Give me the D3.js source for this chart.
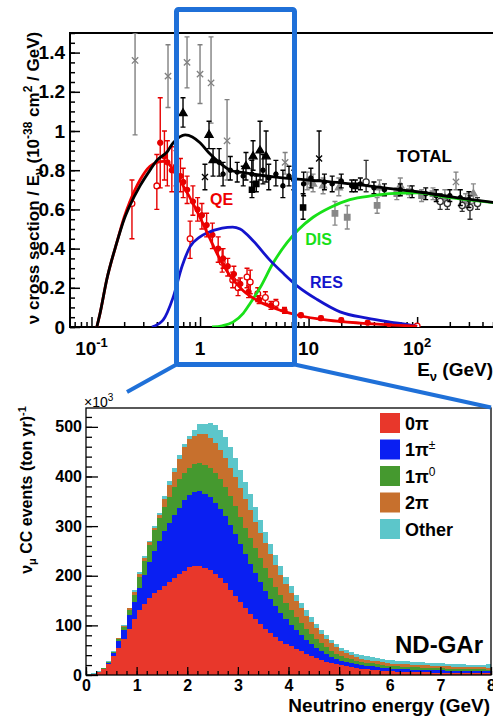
<!DOCTYPE html>
<html>
<head>
<meta charset="utf-8">
<script src="https://cdn.jsdelivr.net/npm/d3@7"></script>
<style>
  body { margin: 0; background: #fff; }
  svg text { font-family: "Liberation Sans", Arial, Helvetica, sans-serif; font-weight: bold; }
</style>
</head>
<body>
<svg width="493" height="717"></svg>
<script>
// ---------- top panel: nu cross section / E (10^-38 cm^2/GeV) vs E (GeV)
var totalEnergy = [0.112, 0.12, 0.138, 0.171, 0.2, 0.226, 0.28, 0.346, 0.4, 0.5, 0.565, 0.65, 0.73, 0.85, 1.0, 1.2, 1.5, 1.9, 2.7, 5, 10, 20, 50, 100, 200, 600];
var totalXsec   = [0, 0.07, 0.24, 0.43, 0.55, 0.62, 0.72, 0.80, 0.85, 0.895, 0.94, 0.97, 0.98, 0.97, 0.94, 0.89, 0.84, 0.80, 0.785, 0.765, 0.75, 0.735, 0.71, 0.69, 0.665, 0.63];
var qeEnergy = [0.112, 0.12, 0.138, 0.171, 0.2, 0.226, 0.28, 0.346, 0.4, 0.46, 0.52, 0.58, 0.7, 0.9, 1.1, 1.45, 1.9, 2.5, 3.5, 5.5, 8, 15, 30, 60, 100];
var qeXsec   = [0, 0.07, 0.24, 0.43, 0.56, 0.64, 0.75, 0.82, 0.84, 0.845, 0.83, 0.79, 0.72, 0.61, 0.51, 0.37, 0.26, 0.185, 0.13, 0.085, 0.06, 0.035, 0.02, 0.01, 0.004];
var resEnergy = [0.36, 0.456, 0.564, 0.683, 0.81, 1.0, 1.16, 1.6, 2.0, 2.34, 3.08, 4.42, 5.82, 7.83, 12, 19.5, 34.5, 56.5, 86.5, 100];
var resXsec   = [0, 0.035, 0.15, 0.31, 0.41, 0.46, 0.48, 0.505, 0.51, 0.50, 0.44, 0.34, 0.275, 0.21, 0.14, 0.077, 0.045, 0.025, 0.01, 0.003];
var disEnergy = [1.29, 1.6, 2.01, 2.5, 2.89, 3.57, 4.7, 6.33, 8.0, 11, 15.8, 24, 39, 56.5, 100, 200, 600];
var disXsec   = [0, 0.006, 0.025, 0.07, 0.12, 0.20, 0.325, 0.43, 0.495, 0.56, 0.61, 0.65, 0.67, 0.68, 0.685, 0.66, 0.63];

// measurements: [E, value, bar low, bar high]
var qeFilled = [[0.43,0.94,0.71,1.17],[0.47,0.87,0.75,1.0],[0.50,0.84,0.72,0.95],[0.55,0.80,0.69,0.92],[0.60,0.82,0.72,0.90],
  [0.66,0.77,0.69,0.86],[0.70,0.74,0.66,0.81],[0.76,0.70,0.63,0.77],[0.86,0.64,0.57,0.72],[0.95,0.60,0.54,0.66],
  [1.04,0.57,0.50,0.63],[1.15,0.52,0.46,0.58],[1.3,0.47,0.40,0.53],[1.47,0.40,0.33,0.46],[1.63,0.35,0.30,0.40],
  [1.8,0.31,0.26,0.35],[2.05,0.27,0.23,0.31],[2.35,0.22,0.19,0.25],[2.8,0.18,0.15,0.21],[3.5,0.14,0.12,0.16],
  [4.5,0.11,0.09,0.13],[6.0,0.085,0.07,0.10],[8.5,0.06,0.05,0.07],[13,0.045,0.035,0.055],[20,0.035,0.025,0.045],
  [35,0.022,0.015,0.03],[55,0.015,0.01,0.02]];
var qeOpen = [[0.236,0.63,0.45,0.75],[0.40,0.72,0.60,0.88],[0.81,0.45,0.35,0.54],[1.6,0.33,0.28,0.40],[2.0,0.24,0.20,0.28],
  [2.24,0.20,0.16,0.24],[2.71,0.255,0.20,0.30],[2.9,0.23,0.17,0.29],[3.4,0.17,0.13,0.20],[4.0,0.15,0.12,0.18],
  [5.0,0.12,0.10,0.14],[100,0.005,0,0.01]];
var blackTriangles = [[0.697,1.09,1.02,1.17],[1.21,0.98,0.91,1.05],[1.318,0.85,0.77,0.91],[2.65,0.82,0.75,0.89],
  [3.08,0.87,0.80,0.95],[3.57,0.90,0.75,1.05],[4.06,0.87,0.74,1.00]];
var grayStars = [[0.252,1.36,0.98,1.5],[0.507,1.28,1.12,1.44],[0.759,1.35,1.22,1.48],[1.0,1.29,1.14,1.44],
  [1.263,1.245,1.04,1.48],[1.774,0.95,0.75,1.16],[6.08,0.84,0.78,0.89],[228,0.74,0.70,0.79]];
var blackStars = [[1.11,0.765,0.70,0.83],[12.5,0.86,0.75,1.0]];
var blackCircles = [[1.5,0.84,0.77,0.91],[1.63,0.78,0.72,0.84],[1.9,0.80,0.75,0.87],[2.2,0.79,0.74,0.84],[2.5,0.77,0.72,0.82],
  [3.0,0.78,0.71,0.85],[3.8,0.80,0.73,0.88],[4.3,0.76,0.70,0.83],[5.0,0.78,0.72,0.85],[5.8,0.72,0.66,0.80],
  [6.6,0.77,0.72,0.82],[7.3,0.75,0.70,0.80],[9.0,0.73,0.67,0.79],[10.5,0.76,0.71,0.81],[14,0.74,0.70,0.78],
  [16.5,0.73,0.69,0.77],[20,0.745,0.71,0.78],[25,0.72,0.69,0.75],[30,0.73,0.70,0.76],[40,0.71,0.68,0.74],
  [50,0.70,0.67,0.73],[70,0.70,0.67,0.73],[90,0.69,0.66,0.72],[120,0.68,0.65,0.71],[150,0.67,0.64,0.70],
  [200,0.67,0.64,0.70],[250,0.66,0.62,0.70],[300,0.65,0.61,0.69]];
var blackSquares = [[3.01,0.70,0.66,0.74],[3.3,0.73,0.69,0.77],[8.9,0.61,0.55,0.68],[27,0.72,0.69,0.75]];
var graySquares = [[17.5,0.58,0.52,0.64],[22.7,0.56,0.50,0.62],[42.8,0.62,0.58,0.66],[65,0.68,0.65,0.71],
  [85,0.69,0.66,0.72],[110,0.67,0.64,0.70],[140,0.68,0.65,0.71]];
var openCircles = [[33.9,0.74,0.69,0.85],[163,0.64,0.60,0.68],[190,0.63,0.60,0.66],[260,0.62,0.59,0.66],
  [307,0.61,0.55,0.67],[360,0.63,0.60,0.66]];
var grayTriangles = [[9.7,0.74,0.70,0.79],[11,0.73,0.69,0.78],[13.6,0.72,0.68,0.76],[19,0.71,0.67,0.76],
  [45,0.71,0.67,0.75],[70,0.72,0.68,0.76],[180,0.66,0.63,0.70],[280,0.64,0.61,0.68],[330,0.68,0.63,0.73]];

var topYTicks = [0, 0.2, 0.4, 0.6, 0.8, 1, 1.2, 1.4];
var topXLabels = [[0.1, "10", "-1"], [1, "1", ""], [10, "10", ""], [100, "10", "2"]];

// ---------- bottom panel: nu_mu CC events per 0.1 GeV bin, units of 10^3 (ton yr)^-1
var binWidth = 0.1;
var zeroPi = [1,3,6,12,22,38,55,72,92,112, 130,143,155,165,172,180,188,195,203,210,
  217,220,220,216,211,204,195,186,172,160, 147,135,123,112,102,93,84,76,69,63,
  58,53,48,43,38,34,30,27,24,22, 20,18,16,14,13,12,11,10,9,8,
  7.5,7,7,6.5,6,6,5.5,5.5,5,5, 5,4.5,4.5,4.5,4,4,4,4,3.5,3.5];
var onePiCharged = [0,0,1,1,3,6,13,18,28,35, 46,58,72,85,98,110,119,128,134,142,
  145,148,150,149,147,143,139,134,131,124, 117,109,101,93,85,77,70,63,56,49,
  43,37,32,27,24,21,18,15,13,11, 9,9,8,8,7,7,6.5,6.5,6,6,
  5.5,5.5,5,5,5,5,5,4.5,5,4.5, 4.5,4.5,4.5,4,4.5,4,4,4,4,4];
var onePiZero = [0,0,0,1,2,2,4,6,10,15, 22,29,35,42,47,49,52,55,57,56,
  56,57,57,59,60,61,60,58,57,56, 54,53,52,50,48,45,42,39,36,33,
  30,27,24,22,20,18,16,14,12,10, 9,8,8,7,7,6,6,5.5,5.5,5,
  5,5,5,5,5,4.5,4.5,4.5,4,4.5, 4,4,4,4,4,4,4,3.5,4,3.5];
var twoPi = [0,0,0,0,0,1,2,3,4,6, 5,6,5,5,6,15,24,32,42,51,
  57,56,59,61,59,59,60,60,58,58, 58,57,56,54,52,50,47,44,41,38,
  35,32,30,27,24,21,19,17,15,13, 10,9,8,7,6,6,5.5,5.5,5.5,5.5,
  5,5,5,5,5,5,5,5,5,4.5, 4.5,4.5,4,4.5,4,4,4,4,4,4];
var other = [1,1,1,1,1,1,1,1,2,4, 4,3,4,3,4,6,7,8,7,7,
  7,13,19,20,30,36,40,42,42,40, 38,35,32,29,26,23,21,19,17,15,
  14,13,12,11,10,9,8.5,8,7.5,7, 7,7,7,6.5,6.5,6.5,6.5,6.5,6.5,6.5,
  6.5,6.5,6.5,6.5,6,6,6,5.5,5.5,5.5, 5.5,5.5,5.5,5,5,5,5,5,5.5,7];
var categoryKeys = ["zeroPi", "onePiCharged", "onePiZero", "twoPi", "other"];
var categoryColors = ["#e8372b", "#0a1ff2", "#45992f", "#c7702d", "#5cc6ca"];
var bottomXTicks = [0, 1, 2, 3, 4, 5, 6, 7, 8];
var bottomYTicks = [0, 100, 200, 300, 400, 500];

var svg = d3.select("svg");

// ===================== top panel =====================
var x1 = d3.scaleLog().domain([0.0634, 500]).range([70, 493]),
    y1 = d3.scaleLinear().domain([0, 1.5]).range([327, 33]);

svg.append("clipPath").attr("id", "clipTop").append("rect")
    .attr("x", 70).attr("y", 33).attr("width", 423).attr("height", 294);

function isDecade(t) {
    var l = Math.log10(t);
    return Math.abs(l - Math.round(l)) < 1e-9;
}

var gx1minor = svg.append("g").attr("transform", "translate(0,327)")
    .call(d3.axisBottom(x1).tickValues(x1.ticks().filter(function (t) { return !isDecade(t); }))
        .tickSize(-5).tickFormat(""));
var gx1major = svg.append("g").attr("transform", "translate(0,327)")
    .call(d3.axisBottom(x1).tickValues(topXLabels.map(function (d) { return d[0]; }))
        .tickSize(-10).tickFormat(""));
var gy1minor = svg.append("g").attr("transform", "translate(70,0)")
    .call(d3.axisLeft(y1).tickValues(d3.range(0, 1.501, 0.05)).tickSize(-5).tickFormat(""));
var gy1major = svg.append("g").attr("transform", "translate(70,0)")
    .call(d3.axisLeft(y1).tickValues(topYTicks).tickSize(-10).tickPadding(5).tickFormat(d3.format("~g")));

[gx1minor, gx1major, gy1minor, gy1major].forEach(function (g) {
    g.select(".domain").remove();
    g.selectAll("line").attr("stroke", "#000").attr("stroke-width", 1.5);
});
gy1major.selectAll("text").style("font-size", "19px").style("font-weight", "bold")
    .style("font-family", '"Liberation Sans", Arial, sans-serif').attr("fill", "#000");

svg.append("path")
    .attr("d", "M" + x1.range()[1] + "," + y1.range()[1] + "H70V327H" + x1.range()[1])
    .attr("fill", "none").attr("stroke", "#000").attr("stroke-width", 2);

var topLabels = svg.append("g").selectAll("text").data(topXLabels).enter().append("text")
    .attr("x", function (d) { return x1(d[0]); })
    .attr("y", 355)
    .attr("text-anchor", "middle")
    .style("font-size", "19px");
topLabels.append("tspan").text(function (d) { return d[1]; });
topLabels.append("tspan").attr("dy", -8).style("font-size", "13px").text(function (d) { return d[2]; });

// x title
var xt1 = svg.append("text").attr("x", 493).attr("y", 376).attr("text-anchor", "end").style("font-size", "19px");
xt1.append("tspan").text("E");
xt1.append("tspan").attr("dy", 5).style("font-size", "13px").text("ν");
xt1.append("tspan").attr("dy", -5).text(" (GeV)");

// y title
var yt1 = svg.append("text").attr("transform", "translate(39,178) rotate(-90)")
    .attr("text-anchor", "middle").style("font-size", "17px");
yt1.append("tspan").text("ν cross section / E");
yt1.append("tspan").attr("dy", 4).style("font-size", "12px").text("ν");
yt1.append("tspan").attr("dy", -4).text(" (10");
yt1.append("tspan").attr("dy", -7).style("font-size", "12px").text("-38");
yt1.append("tspan").attr("dy", 7).text(" cm");
yt1.append("tspan").attr("dy", -7).style("font-size", "12px").text("2");
yt1.append("tspan").attr("dy", 7).text(" / GeV)");

var plot = svg.append("g").attr("clip-path", "url(#clipTop)");

var starType = {
    draw: function (ctx, size) {
        var r = Math.sqrt(size) / 2;
        ctx.moveTo(-r, -r); ctx.lineTo(r, r);
        ctx.moveTo(-r, r); ctx.lineTo(r, -r);
    }
};

function drawPoints(data, color, type, size, filled) {
    var g = plot.append("g");
    g.selectAll(".bar").data(data).enter().append("path")
        .attr("d", function (d) {
            var x = x1(d[0]), a = y1(d[2]), b = y1(d[3]);
            return "M" + x + "," + a + "V" + b + "M" + (x - 2.5) + "," + a + "h5M" + (x - 2.5) + "," + b + "h5";
        })
        .attr("stroke", color).attr("stroke-width", 1.4).attr("fill", "none");
    g.selectAll(".mark").data(data).enter().append("path")
        .attr("transform", function (d) { return "translate(" + x1(d[0]) + "," + y1(d[1]) + ")"; })
        .attr("d", d3.symbol().type(type).size(size))
        .attr("fill", filled ? color : (type === starType ? "none" : "#fff"))
        .attr("stroke", color).attr("stroke-width", 1.3);
}

drawPoints(grayStars, "#808080", starType, 40, false);
drawPoints(grayTriangles, "#8a8a8a", d3.symbolTriangle, 22, true);
drawPoints(graySquares, "#888", d3.symbolSquare, 30, true);
drawPoints(openCircles, "#333", d3.symbolCircle, 30, false);
drawPoints(blackSquares, "#000", d3.symbolSquare, 28, true);
drawPoints(blackCircles, "#000", d3.symbolCircle, 14, true);
drawPoints(blackTriangles, "#000", d3.symbolTriangle, 28, true);
drawPoints(blackStars, "#000", starType, 36, false);
drawPoints(qeOpen, "#e60000", d3.symbolCircle, 26, false);
drawPoints(qeFilled, "#e60000", d3.symbolCircle, 20, true);

var curve = d3.line()
    .x(function (d) { return x1(d[0]); })
    .y(function (d) { return y1(d[1]); })
    .curve(d3.curveMonotoneX);

function pairs(e, v) { return e.map(function (x, i) { return [x, v[i]]; }); }

[[disEnergy, disXsec, "#18e018"], [resEnergy, resXsec, "#1414cc"],
 [qeEnergy, qeXsec, "#ee0000"], [totalEnergy, totalXsec, "#000"]].forEach(function (c) {
    plot.append("path").attr("d", curve(pairs(c[0], c[1])))
        .attr("fill", "none").attr("stroke", c[2]).attr("stroke-width", 2.8);
});

var curveLabels = [["QE", 1.237, 0.622, "#ee0000", 16], ["DIS", 9.3, 0.418, "#18e018", 16],
                   ["RES", 10.3, 0.199, "#1414cc", 16], ["TOTAL", 65, 0.842, "#000", 17]];
svg.append("g").selectAll("text").data(curveLabels).enter().append("text")
    .attr("x", function (d) { return x1(d[1]); })
    .attr("y", function (d) { return y1(d[2]); })
    .attr("fill", function (d) { return d[3]; })
    .style("font-size", function (d) { return d[4] + "px"; })
    .text(function (d) { return d[0]; });

// ===================== bottom panel =====================
var x2 = d3.scaleLinear().domain([0, 8]).range([86, 491]),
    y2 = d3.scaleLinear().domain([0, 538]).range([675, 408]);

var rows = zeroPi.map(function (v, i) {
    return { e: i * binWidth, zeroPi: v, onePiCharged: onePiCharged[i], onePiZero: onePiZero[i], twoPi: twoPi[i], other: other[i] };
});
var last = Object.assign({}, rows[rows.length - 1]);
last.e = rows.length * binWidth;
rows.push(last);

var stacked = d3.stack().keys(categoryKeys)(rows);
var area = d3.area().curve(d3.curveStepAfter)
    .x(function (d) { return x2(d.data.e); })
    .y0(y2(0))
    .y1(function (d) { return y2(d[1]); });

svg.append("g").selectAll("path").data(stacked.slice().reverse()).enter().append("path")
    .attr("d", area)
    .attr("shape-rendering", "crispEdges")
    .attr("fill", function (d) { return categoryColors[d.index]; });

var gx2minor = svg.append("g").attr("transform", "translate(0,675)")
    .call(d3.axisBottom(x2).tickValues(d3.range(0, 8.01, 0.2)).tickSize(-4).tickFormat(""));
var gx2major = svg.append("g").attr("transform", "translate(0,675)")
    .call(d3.axisBottom(x2).tickValues(bottomXTicks).tickSize(-8).tickPadding(5).tickFormat(d3.format("d")));
var gy2minor = svg.append("g").attr("transform", "translate(86,0)")
    .call(d3.axisLeft(y2).tickValues(d3.range(0, 531, 20)).tickSize(-6).tickFormat(""));
var gy2major = svg.append("g").attr("transform", "translate(86,0)")
    .call(d3.axisLeft(y2).tickValues(bottomYTicks).tickSize(-12).tickPadding(4).tickFormat(d3.format("d")));

[gx2minor, gx2major, gy2minor, gy2major].forEach(function (g) {
    g.select(".domain").remove();
    g.selectAll("line").attr("stroke", "#000").attr("stroke-width", 1.3);
    g.selectAll("text").style("font-size", "16px").style("font-weight", "bold")
        .style("font-family", '"Liberation Sans", Arial, sans-serif').attr("fill", "#000");
});

svg.append("rect").attr("x", 86).attr("y", 408).attr("width", 405).attr("height", 267)
    .attr("fill", "none").attr("stroke", "#000").attr("stroke-width", 1.3);

var mult = svg.append("text").attr("x", 84).attr("y", 407).style("font-size", "14px").style("font-weight", "normal");
mult.append("tspan").text("×10");
mult.append("tspan").attr("dy", -6).style("font-size", "10px").text("3");

var xt2 = svg.append("text").attr("x", 490).attr("y", 712).attr("text-anchor", "end")
    .style("font-size", "19px").text("Neutrino energy (GeV)");

var yt2 = svg.append("text").attr("transform", "translate(32,490) rotate(-90)")
    .attr("text-anchor", "middle").style("font-size", "16px");
yt2.append("tspan").text("ν");
yt2.append("tspan").attr("dy", 4).style("font-size", "11px").text("μ");
yt2.append("tspan").attr("dy", -4).text(" CC events (ton yr)");
yt2.append("tspan").attr("dy", -6).style("font-size", "11px").text("-1");

// legend
var legendLabels = [["0π", ""], ["1π", "±"], ["1π", "0"], ["2π", ""], ["Other", ""]];
var legend = svg.append("g").selectAll("g").data(legendLabels).enter().append("g")
    .attr("transform", function (d, i) { return "translate(380," + (413 + i * 26.5) + ")"; });
legend.append("rect").attr("width", 20).attr("height", 20)
    .attr("fill", function (d, i) { return categoryColors[i]; });
var lt = legend.append("text").attr("x", 25).attr("y", 16.5).style("font-size", "18px");
lt.append("tspan").text(function (d) { return d[0]; });
lt.append("tspan").attr("dy", -7).style("font-size", "12px").style("font-weight", "normal").text(function (d) { return d[1]; });

svg.append("text").attr("x", 483).attr("y", 653).attr("text-anchor", "end")
    .style("font-size", "24px").text("ND-GAr");

// ===================== zoom box linking panels =====================
var boxColor = "#1f70d8";
svg.append("rect").attr("x", 176.5).attr("y", 9.5).attr("width", 118).attr("height", 355)
    .attr("rx", 2).attr("fill", "none").attr("stroke", boxColor).attr("stroke-width", 5);
svg.append("path").attr("d", "M176.5,364.5L127,392M294.5,364.5L491,407.5")
    .attr("fill", "none").attr("stroke", boxColor).attr("stroke-width", 4);
</script>
</body>
</html>
